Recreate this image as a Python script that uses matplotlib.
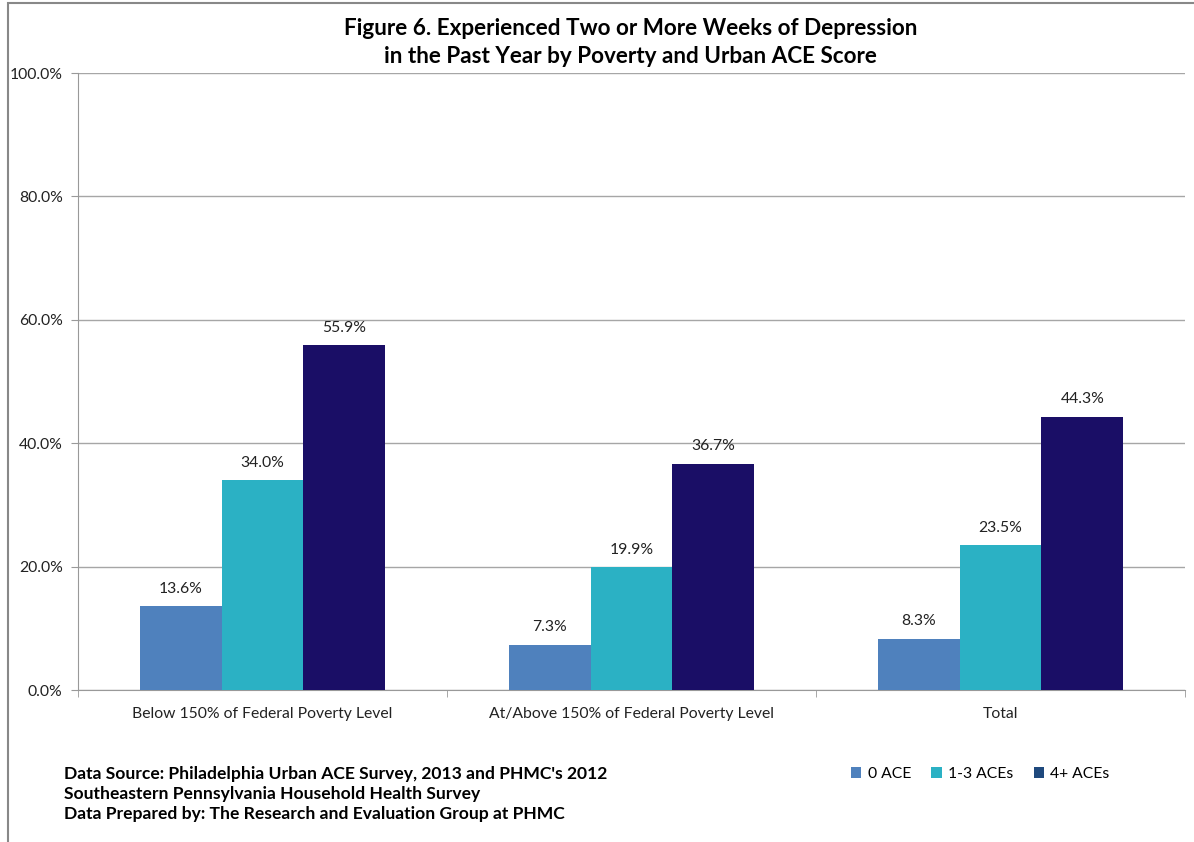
import matplotlib
matplotlib.use("Agg")
import matplotlib.pyplot as plt
import numpy as np
from matplotlib.patches import Rectangle, Patch

plt.rcParams['font.family'] = ['Lato', 'DejaVu Sans']

categories = ["Below 150% of Federal Poverty Level",
              "At/Above 150% of Federal Poverty Level",
              "Total"]
series_names = ["0 ACE", "1-3 ACEs", "4+ ACEs"]
ace0 = [13.6, 7.3, 8.3]
ace13 = [34.0, 19.9, 23.5]
ace4 = [55.9, 36.7, 44.3]
yticks = [0, 20, 40, 60, 80, 100]

bar_colors = ["#4F81BD", "#2BB1C4", "#1A0E66"]
legend_colors = ["#4F81BD", "#2BB1C4", "#1F497D"]

fig = plt.figure(figsize=(11.94, 8.42), dpi=100)
ax = fig.add_axes([0.0653, 0.1805, 0.9272, 0.7328])

x = np.arange(len(categories))
w = 0.222
for i, vals in enumerate([ace0, ace13, ace4]):
    pos = x + (i - 1) * w
    ax.bar(pos, vals, width=w, color=bar_colors[i], zorder=3)
    for p, v in zip(pos, vals):
        ax.text(p, v + 1.7, f"{v:.1f}%", ha="center", va="bottom",
                fontsize=11.3, color="#222222")

ax.set_xlim(-0.5, 2.5)
ax.set_ylim(0, 100)
ax.set_yticks(yticks)
ax.set_yticklabels([f"{t:.1f}%" for t in yticks], fontsize=11.3, color="#222222")
ax.set_xticks(x)
ax.set_xticklabels(categories, fontsize=11.3, color="#222222")
ax.tick_params(axis='x', length=0, pad=12)
ax.tick_params(axis='y', length=5, color="#999999", pad=6)
ax.set_xticks([-0.5, 0.5, 1.5, 2.5], minor=True)
ax.tick_params(axis='x', which='minor', length=5, color="#999999")
ax.grid(axis='y', color="#A6A6A6", linewidth=1, zorder=0)
for s in ['top', 'right']:
    ax.spines[s].set_visible(False)
ax.spines['left'].set_color("#999999")
ax.spines['bottom'].set_color("#999999")

fig.text(0.528, 0.9495, "Figure 6. Experienced Two or More Weeks of Depression\nin the Past Year by Poverty and Urban ACE Score",
         ha="center", va="center", fontsize=16.2, fontweight="bold", linespacing=1.45)

fig.text(0.054, 0.057, "Data Source: Philadelphia Urban ACE Survey, 2013 and PHMC's 2012\nSoutheastern Pennsylvania Household Health Survey\nData Prepared by: The Research and Evaluation Group at PHMC",
         ha="left", va="center", fontsize=12.6, fontweight="bold", linespacing=1.3)

handles = [Patch(facecolor=c, edgecolor='none') for c in legend_colors]
fig.legend(handles, series_names, loc="center", bbox_to_anchor=(0.821, 0.081),
           ncol=3, frameon=False, fontsize=11.3, handlelength=0.65, handleheight=0.65,
           columnspacing=1.3, handletextpad=0.4)

border = Rectangle((0.007, -0.01), 1.0, 1.006, transform=fig.transFigure,
                   fill=False, edgecolor="#888888", linewidth=1.5)
fig.add_artist(border)

fig.savefig("out.png", dpi=100, facecolor="white")
